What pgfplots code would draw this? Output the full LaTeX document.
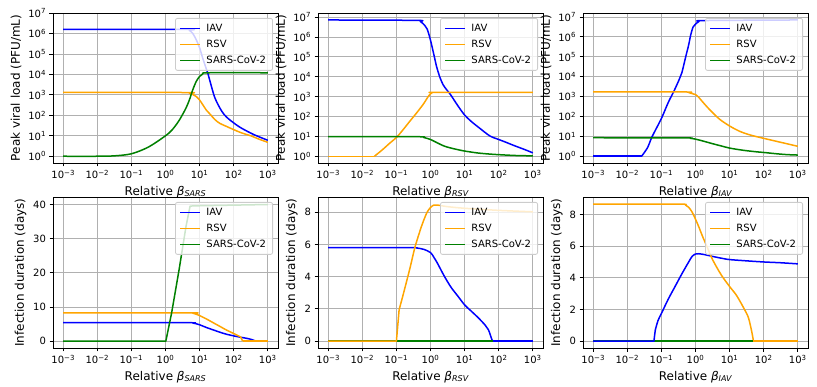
\documentclass[border=0pt]{standalone}
\usepackage{fontspec}
\setmainfont{DejaVu Sans}
\usepackage{pgfplots}
\pgfplotsset{compat=1.18}
\definecolor{mplblue}{RGB}{0,0,255}
\definecolor{mplorange}{RGB}{255,165,0}
\definecolor{mplgreen}{RGB}{0,128,0}
\definecolor{gridgray}{RGB}{176,176,176}
\definecolor{legframe}{RGB}{204,204,204}
\newcommand{\decade}[1]{10\textsuperscript{#1}}
\pgfplotsset{
  panel/.style={
    scale only axis, width=225pt,
    xmin=5.012e-4, xmax=1995.3,
    xtick={1e-3,1e-2,1e-1,1,10,100,1000},
    xticklabels={\decade{−3},\decade{−2},\decade{−1},\decade{0},\decade{1},\decade{2},\decade{3}},
    xminorticks=false, yminorticks=false,
    grid=major, grid style={gridgray, line width=0.8pt},
    axis line style={line width=0.8pt},
    tick align=outside, tick pos=left, major tick length=3.5pt,
    tick style={black, line width=0.8pt},
    every tick label/.append style={font=\fontsize{10}{12}\selectfont},
    label style={font=\fontsize{12}{14}\selectfont},
    legend cell align=left,
    legend style={at={(rel axis cs:1,1)}, anchor=north east,
      xshift=-5pt, yshift=-5pt, draw=legframe, line width=0.8pt,
      rounded corners=2pt,
      fill=white, fill opacity=0.8, text opacity=1,
      font=\fontsize{10}{12}\selectfont, inner xsep=4pt, inner ysep=2pt,
      row sep=0pt,
      nodes={inner sep=2.5pt, text height=8.5pt, text depth=2.5pt},
      /tikz/every odd column/.append style={column sep=3pt}},
    legend image code/.code={\draw[#1, line width=1.5pt] (0pt,0pt) -- (20pt,0pt);},
    every axis plot/.append style={line width=1.5pt, mark=none, line join=round},
  },
  curve/.style={smooth, tension=0.5},
  toprow/.style={panel, height=150pt,
    ytick={1,10,100,1000,1e4,1e5,1e6,1e7},
    yticklabels={\decade{0},\decade{1},\decade{2},\decade{3},\decade{4},\decade{5},\decade{6},\decade{7}},
    ylabel={Peak viral load (PFU/mL)}},
  botrow/.style={panel, height=151pt, ylabel={Infection duration (days)},
    yticklabel={\pgfmathprintnumber[assume math mode=true]{\tick}}},
}
\begin{document}
\begin{tikzpicture}
\useasboundingbox (0,0) rectangle (817pt,-387pt);

%% top row: peak viral load
\begin{axis}[xmode=log, ymode=log, toprow, at={(53pt,-13pt)}, anchor=north west,
  ymin=0.4677, ymax=1e7,
  xlabel={Relative {\itshape β\textsubscript{SARS}}}]
\addplot[mplblue, curve] coordinates {
  (1e-3,1.585e6) (3.981,1.585e6) (5.012,1.413e6) (6.310,1.0e6) (7.943,5.012e5)
  (10,1.995e5) (12.59,5.623e4) (15.85,1.778e4) (17.38,1.175e4) (19.95,5012)
  (28.18,707.9) (44.67,158.5) (63.10,79.43) (100,42.66) (158.5,25.12)
  (309.0,13.80) (501.2,9.550) (1000,6.026)};
\addlegendentry{IAV}
\addplot[mplorange, curve] coordinates {
  (1e-3,1318) (3.981,1300) (5.012,1202) (6.310,1047) (7.943,831.8) (10,562.3)
  (12.59,316.2) (15.85,177.8) (19.95,117.5) (28.18,61.66) (39.81,39.81)
  (63.10,28.18) (100,19.95) (177.8,13.49) (316.2,10) (562.3,6.761) (1000,4.786)};
\addlegendentry{RSV}
\addplot[mplgreen, curve] coordinates {
  (1e-3,1) (0.01,1) (0.03162,1.047) (0.1,1.318) (0.3162,2.818) (1,10)
  (1.585,19.95) (2.512,56.23) (3.981,223.9) (5.012,562.3) (5.623,1000)
  (6.310,1778) (7.943,4467) (10,7943) (12.59,1.072e4) (17.78,1.2e4) (1000,1.2e4)};
\addlegendentry{SARS-CoV-2}
\end{axis}

\begin{axis}[xmode=log, ymode=log, toprow, at={(318pt,-13pt)}, anchor=north west,
  ymin=0.4677, ymax=1.585e7,
  xlabel={Relative {\itshape β\textsubscript{RSV}}}]
\addplot[mplblue, curve] coordinates {
  (1e-3,7.079e6) (0.3890,6.761e6) (0.5012,6.026e6) (0.6026,4.677e6)
  (0.7943,2.512e6) (1,6.761e5) (1.259,1.259e5) (1.514,3.162e4) (1.905,8913)
  (2.344,3981) (2.818,2512) (3.311,1778) (3.981,1175) (6.310,354.8) (10,120.2)
  (15.85,56.23) (27.54,26.30) (54.95,10.72) (100,7.079) (158.5,5.248)
  (251.2,3.802) (398.1,2.818) (631.0,2.089) (1000,1.514)};
\addlegendentry{IAV}
\addplot[mplorange, curve] coordinates {
  (0.02239,1) (0.03981,2.239) (0.06310,4.571) (0.1,8.913)
  (0.1585,22.39) (0.2512,60.26) (0.3981,158.5) (0.6310,446.7) (0.8913,1122)
  (1.122,1585) (1.413,1660) (1000,1660)};
\addlegendentry{RSV}
\addplot[mplgreen, curve] coordinates {
  (1e-3,10) (0.3981,9.772) (0.6310,8.913) (1,7.079) (1.585,4.786) (2.512,3.311)
  (3.981,2.630) (6.310,2.188) (10,1.862) (25.12,1.479) (63.10,1.288)
  (158.5,1.175) (398.1,1.096) (1000,1.072)};
\addlegendentry{SARS-CoV-2}
\addplot[mplorange, forget plot] coordinates {(1e-3,1) (0.02239,1)};
\end{axis}

\begin{axis}[xmode=log, ymode=log, toprow, at={(583pt,-13pt)}, anchor=north west,
  ymin=0.4571, ymax=1.585e7,
  xlabel={Relative {\itshape β\textsubscript{IAV}}}]
\addplot[mplblue, curve] coordinates {
  (0.02630,1) (0.03981,2.818) (0.05248,9.120) (0.1,79.43)
  (0.1585,501.2) (0.2344,1905) (0.3311,7079) (0.3981,1.585e4) (0.5248,1.122e5)
  (0.6310,3.981e5) (0.7244,1.259e6) (0.8511,3.162e6) (1,4.365e6)
  (1.259,5.888e6) (1.778,6.607e6) (1000,7.079e6)};
\addlegendentry{IAV}
\addplot[mplorange, curve] coordinates {
  (1e-3,1738) (0.5012,1698) (0.6310,1585) (0.7943,1413) (1,1259) (1.259,891.3)
  (1.585,562.3) (2.570,223.9) (5.012,74.13) (10,33.11) (19.95,17.78)
  (39.81,11.75) (100,7.943) (316.2,5.012) (1000,3.162)};
\addlegendentry{RSV}
\addplot[mplgreen, curve] coordinates {
  (1e-3,8.511) (0.5012,8.318) (0.7079,7.943) (1,7.244) (1.778,5.623)
  (3.162,4.266) (5.623,3.311) (10,2.570) (25.12,1.995) (63.10,1.660)
  (100,1.549) (251.2,1.318) (501.2,1.202) (1000,1.148)};
\addlegendentry{SARS-CoV-2}
\addplot[mplblue, forget plot] coordinates {(1e-3,1) (0.02630,1)};
\end{axis}

%% bottom row: infection duration
\begin{axis}[xmode=log, botrow, at={(53pt,-197pt)}, anchor=north west,
  ymin=-2.0, ymax=42.2, ytick={0,10,20,30,40},
  xlabel={Relative {\itshape β\textsubscript{SARS}}}]
\addplot[mplblue, curve] coordinates {
  (1e-3,5.4) (3.981,5.4) (6.310,5.3) (7.943,5.1) (10,4.8) (15.85,4.0)
  (25.12,3.3) (39.81,2.6) (63.10,2.0) (100,1.55) (158.5,1.15) (251.2,0.8)
  (354.8,0.4) (446.7,0)};
\addlegendentry{IAV}
\addplot[mplorange, curve] coordinates {
  (1e-3,8.3) (5.012,8.3) (6.310,8.2) (7.943,7.9) (10,7.5) (15.85,6.5)
  (25.12,5.4) (39.81,4.3) (63.10,3.2) (100,2.25) (125.9,1.75) (158.5,1.25)
  (182.0,0)};
\addlegendentry{RSV}
\addplot[mplgreen] coordinates {
  (1e-3,0) (1.023,0) (1.514,8.3) (2.512,21) (3.981,33.5) (5.248,39.5)
  (6.310,39.6) (1000,40.0)};
\addlegendentry{SARS-CoV-2}
\addplot[mplblue, forget plot] coordinates {(446.7,0) (1000,0)};
\addplot[mplorange, forget plot] coordinates {(182.0,0) (1000,0)};
\end{axis}

\begin{axis}[xmode=log, botrow, at={(318pt,-197pt)}, anchor=north west,
  ymin=-0.43, ymax=8.95, ytick={0,2,4,6,8},
  xlabel={Relative {\itshape β\textsubscript{RSV}}}]
\addplot[mplblue, curve] coordinates {
  (1e-3,5.8) (0.2512,5.8) (0.3981,5.78) (0.6310,5.7) (1,5.5) (1.259,5.2)
  (1.585,4.85) (2.512,4.05) (3.981,3.35) (6.310,2.8) (10,2.25) (15.85,1.85)
  (25.12,1.45) (39.81,1.0) (50.12,0.7) (63.10,0.1) (66.07,0)};
\addlegendentry{IAV}
\addplot[mplorange, curve] coordinates {
  (0.1202,1.95) (0.1585,2.9) (0.2512,4.55) (0.3467,5.8)
  (0.5012,6.9) (0.6310,7.5) (0.7943,8.0) (1,8.3) (1.259,8.45) (1.585,8.45)
  (3.162,8.35) (10,8.25) (100,8.12) (1000,8.03)};
\addlegendentry{RSV}
\addplot[mplgreen] coordinates {(1e-3,0) (1000,0)};
\addlegendentry{SARS-CoV-2}
\addplot[mplblue, forget plot] coordinates {(66.07,0) (1000,0)};
\addplot[mplorange, forget plot] coordinates {(1e-3,0) (0.1,0) (0.1202,1.95)};
\end{axis}

\begin{axis}[xmode=log, botrow, at={(583pt,-197pt)}, anchor=north west,
  ymin=-0.43, ymax=9.1, ytick={0,2,4,6,8},
  xlabel={Relative {\itshape β\textsubscript{IAV}}}]
\addplot[mplblue, curve] coordinates {
  (0.06607,0.7) (0.07943,1.3) (0.1,1.75) (0.1585,2.65)
  (0.2512,3.45) (0.3981,4.25) (0.6310,5.0) (0.7943,5.35) (1,5.5) (1.259,5.52)
  (1.995,5.45) (3.162,5.35) (6.310,5.22) (10,5.15) (31.62,5.07) (100,5.0)
  (316.2,4.95) (1000,4.88)};
\addlegendentry{IAV}
\addplot[mplorange, curve] coordinates {
  (1e-3,8.65) (0.3162,8.65) (0.5012,8.6) (0.6310,8.45) (0.7943,8.15) (1,7.7)
  (1.259,7.2) (1.585,6.65) (2.239,5.9) (3.162,5.15) (5.623,4.2) (10,3.45)
  (15.85,2.9) (25.12,2.15) (35.48,1.5) (44.67,0.6) (50.12,0)};
\addlegendentry{RSV}
\addplot[mplgreen] coordinates {(1e-3,0) (1000,0)};
\addlegendentry{SARS-CoV-2}
\addplot[mplblue, forget plot] coordinates {(1e-3,0) (0.06026,0) (0.06607,0.7)};
\addplot[mplorange, forget plot] coordinates {(50.12,0) (1000,0)};
\end{axis}
\end{tikzpicture}
\end{document}
